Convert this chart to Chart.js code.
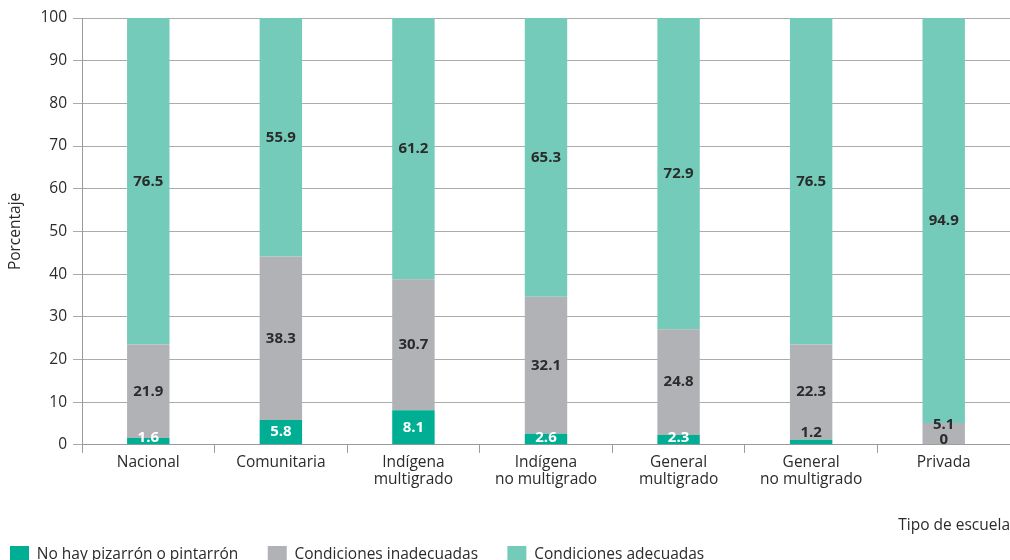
<!DOCTYPE html>
<html>
<head>
<meta charset="utf-8">
<script src="https://cdn.jsdelivr.net/npm/chart.js@4.4.0/dist/chart.umd.min.js"></script>
<style>
  html, body { margin: 0; padding: 0; background: #fff; overflow: hidden; }
  #wrap { width: 1010px; height: 573px; }
</style>
</head>
<body>
<div id="wrap"><canvas id="chart"></canvas></div>
<script>
const categories = [
    'Nacional',
    'Comunitaria',
    ['Indígena', 'multigrado'],
    ['Indígena', 'no multigrado'],
    ['General', 'multigrado'],
    ['General', 'no multigrado'],
    'Privada'
];
const seriesNames = ['No hay pizarrón o pintarrón', 'Condiciones inadecuadas', 'Condiciones adecuadas'];
const noBoard = [1.6, 5.8, 8.1, 2.6, 2.3, 1.2, 0];
const inadequate = [21.9, 38.3, 30.7, 32.1, 24.8, 22.3, 5.1];
const adequate = [76.5, 55.9, 61.2, 65.3, 72.9, 76.5, 94.9];
const yTicks = [0, 10, 20, 30, 40, 50, 60, 70, 80, 90, 100];

const colors = ['#00ae94', '#b1b2b6', '#74cbb9'];
const darkText = '#2b2b2b';
const fontFamily = '"Open Sans", "Noto Sans", sans-serif';

// value labels drawn on the stacked segments
const segmentLabels = {
    id: 'segmentLabels',
    afterDatasetsDraw(chart) {
        const ctx = chart.ctx;
        ctx.save();
        ctx.font = 'bold 15px ' + fontFamily;
        ctx.textAlign = 'center';
        ctx.textBaseline = 'middle';
        chart.data.datasets.forEach((ds, i) => {
            const meta = chart.getDatasetMeta(i);
            meta.data.forEach((bar, j) => {
                const value = ds.data[j];
                const top = Math.min(bar.y, bar.base);
                const base = Math.max(bar.y, bar.base);
                let y = (top + base) / 2;
                let color = darkText;
                if (i === 0) {
                    if (value === 0) {
                        y = base - 5;
                    } else if (value < 1.5) {
                        y = top - 7;
                    } else {
                        color = '#ffffff';
                        y = Math.min(y, base - 7);
                    }
                } else if (i === 1 && base - top < 30) {
                    y = top + 2;
                }
                ctx.fillStyle = color;
                ctx.fillText(String(value), bar.x, y);
            });
        });
        ctx.restore();
    }
};

const ctx = document.getElementById('chart').getContext('2d');
window.schoolChart = new Chart(ctx, {
    type: 'bar',
    data: {
        labels: categories,
        datasets: [
            { label: seriesNames[0], data: noBoard, backgroundColor: colors[0] },
            { label: seriesNames[1], data: inadequate, backgroundColor: colors[1] },
            { label: seriesNames[2], data: adequate, backgroundColor: colors[2] }
        ]
    },
    options: {
        responsive: true,
        maintainAspectRatio: false,
        animation: false,
        datasets: {
            bar: { barPercentage: 0.32, categoryPercentage: 1.0 }
        },
        layout: { padding: { top: 18, right: 0, left: 0, bottom: 0 } },
        plugins: {
            legend: {
                position: 'bottom',
                align: 'start',
                labels: {
                    boxWidth: 19,
                    boxHeight: 17,
                    padding: 10,
                    color: darkText,
                    font: { family: fontFamily, size: 15.5 },
                    generateLabels(chart) {
                        const items = Chart.defaults.plugins.legend.labels.generateLabels(chart);
                        items.forEach(item => { item.text = item.text + '\u2003\u2005'; });
                        return items;
                    }
                }
            },
            tooltip: { enabled: false }
        },
        scales: {
            x: {
                stacked: true,
                grid: {
                    display: true,
                    drawOnChartArea: false,
                    offset: true,
                    tickLength: 8,
                    color: '#9a9a9a',
                    lineWidth: 1
                },
                border: { color: '#9a9a9a' },
                ticks: {
                    color: darkText,
                    padding: 2,
                    maxRotation: 0,
                    font: { family: fontFamily, size: 15.5, lineHeight: 1.05 }
                },
                title: {
                    display: true,
                    text: 'Tipo de escuela',
                    align: 'end',
                    color: darkText,
                    padding: { top: 27, bottom: 1 },
                    font: { family: fontFamily, size: 15.5 }
                }
            },
            y: {
                stacked: true,
                min: 0,
                max: 100,
                afterBuildTicks(scale) {
                    scale.ticks = yTicks.map(v => ({ value: v }));
                },
                afterFit(scale) {
                    scale.width = 82;
                },
                grid: {
                    color: '#ababab',
                    tickLength: 9,
                    lineWidth: 1
                },
                border: { color: '#9a9a9a' },
                ticks: {
                    color: darkText,
                    padding: 6,
                    font: { family: fontFamily, size: 15.5 }
                },
                title: {
                    display: true,
                    text: 'Porcentaje',
                    color: darkText,
                    padding: { top: 6, bottom: 0 },
                    font: { family: fontFamily, size: 15.5 }
                }
            }
        }
    },
    plugins: [segmentLabels]
});
</script>
</body>
</html>
